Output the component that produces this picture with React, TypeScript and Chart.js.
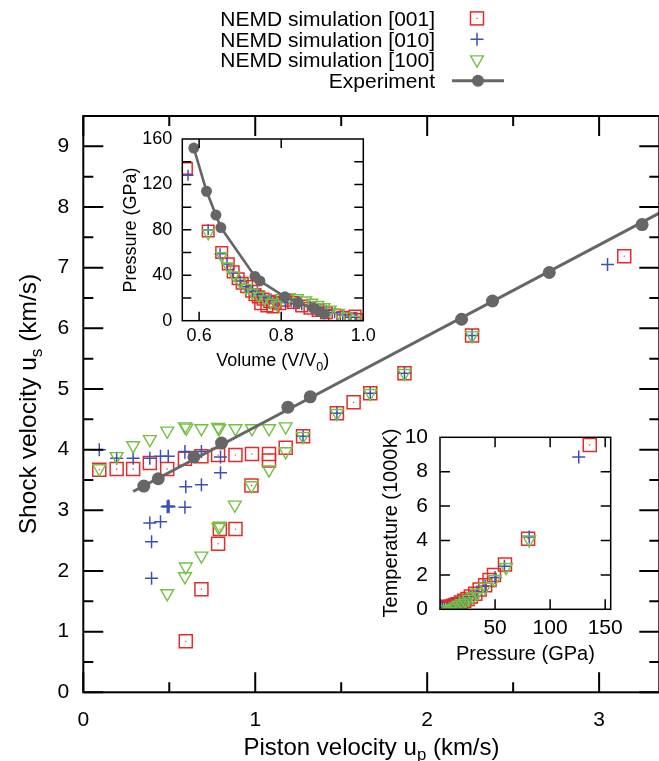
import React, { useEffect, useRef } from "react";
import { Chart, registerables } from "chart.js";

Chart.register(...registerables);

const FONT = '"Liberation Sans", Arial, Helvetica, sans-serif';
const RED = "#e52a2a";
const BLUE = "#3d4fb8";
const GREEN = "#74c043";
const GRAY = "#666666";

// ---------- Main plot: shock velocity vs piston velocity ----------
const mainUp001 = [0.093, 0.194, 0.29, 0.387, 0.488, 0.591, 0.687, 0.784, 0.885, 0.981, 1.08, 1.08, 1.177, 1.278, 1.475, 1.572, 1.669, 1.868, 2.261, 3.146, 0.978, 0.794, 0.885, 0.784, 0.687, 0.596];
const mainUs001 = [3.67, 3.68, 3.68, 3.78, 3.68, 3.85, 3.89, 3.91, 3.91, 3.93, 3.93, 3.82, 4.03, 4.22, 4.6, 4.78, 4.93, 5.26, 5.88, 7.19, 3.41, 2.69, 2.69, 2.45, 1.7, 0.84];

const mainUp010 = [0.093, 0.194, 0.29, 0.387, 0.449, 0.494, 0.591, 0.687, 0.798, 0.798, 0.596, 0.687, 0.488, 0.499, 0.494, 0.591, 0.387, 0.449, 0.397, 0.397, 1.278, 1.475, 1.669, 1.868, 2.261, 3.049];
const mainUs010 = [4.0, 3.86, 3.86, 3.86, 3.89, 3.89, 3.97, 3.97, 3.88, 3.62, 3.39, 3.42, 3.06, 3.06, 3.07, 3.05, 2.79, 2.81, 2.48, 1.88, 4.22, 4.6, 4.93, 5.26, 5.88, 7.05];

const mainUp100 = [0.093, 0.194, 0.29, 0.387, 0.488, 0.591, 0.6, 0.687, 0.784, 0.79, 0.885, 0.981, 1.08, 1.177, 1.08, 1.177, 0.978, 0.881, 0.794, 0.787, 0.687, 0.596, 0.591, 0.488, 1.278, 1.475, 1.669, 1.868, 2.261];
const mainUs100 = [3.69, 3.89, 4.07, 4.17, 4.31, 4.38, 4.36, 4.35, 4.37, 4.35, 4.35, 4.35, 4.35, 4.38, 3.67, 3.97, 3.41, 3.09, 2.74, 2.72, 2.25, 2.07, 1.91, 1.63, 4.22, 4.6, 4.93, 5.26, 5.88];

const mainUpExp = [0.352, 0.436, 0.643, 0.804, 1.19, 1.32, 2.2, 2.38, 2.71, 3.25];
const mainUsExp = [3.4, 3.52, 3.88, 4.11, 4.7, 4.87, 6.15, 6.45, 6.92, 7.71];

const mainUpFit = [0.29, 3.35];
const mainUsFit = [3.31, 7.9];

const mainXMajor = [0, 1, 2, 3];
const mainXMinor = [0.5, 1.5, 2.5];
const mainYMajor = [0, 1, 2, 3, 4, 5, 6, 7, 8, 9];
const mainYMinor = [0.5, 1.5, 2.5, 3.5, 4.5, 5.5, 6.5, 7.5, 8.5];

// ---------- Inset 1: pressure vs volume ----------
const in1V001 = [0.569, 0.622, 0.655, 0.671, 0.683, 0.695, 0.705, 0.716, 0.728, 0.736, 0.744, 0.756, 0.772, 0.785, 0.797, 0.75, 0.765, 0.78, 0.81, 0.83, 0.85, 0.87, 0.89, 0.91, 0.93, 0.95, 0.97, 0.985, 0.98];
const in1P001 = [134, 79, 60, 50, 43, 37, 33, 30, 26, 23, 21, 19, 17, 16, 15, 15, 13, 12, 18, 16, 13, 11, 9, 7, 5, 3, 2, 1, 4];

const in1V010 = [0.573, 0.622, 0.651, 0.668, 0.683, 0.7, 0.715, 0.73, 0.745, 0.76, 0.775, 0.79, 0.81, 0.83, 0.85, 0.87, 0.89, 0.91, 0.93, 0.95, 0.97, 0.98];
const in1P010 = [128, 80, 59, 50, 42, 35, 30, 26, 23, 21, 19, 17, 16, 15, 14, 13, 11, 9, 7, 5, 3, 3];

const in1V100 = [0.622, 0.655, 0.67, 0.685, 0.7, 0.715, 0.73, 0.745, 0.76, 0.775, 0.79, 0.8, 0.82, 0.84, 0.86, 0.875, 0.89, 0.905, 0.92, 0.94, 0.96, 0.98];
const in1P100 = [77, 57, 48, 40, 34, 29, 25, 22, 19, 16, 14, 20, 21, 20, 18, 16, 14, 12, 10, 7, 4, 1];

const in1VExp = [0.587, 0.618, 0.641, 0.653, 0.736, 0.748, 0.809, 0.841, 0.878, 0.893, 0.905];
const in1PExp = [152, 114, 93, 82, 39, 35, 21, 16, 11, 8, 6];

const in1XMajor = [0.6, 0.8];
const in1YMajor = [20, 40, 60, 80, 100, 120, 140];

// ---------- Inset 2: temperature vs pressure ----------
const in2P001 = [136, 80, 59, 49, 45, 41, 36, 32, 28, 25, 22, 19, 16, 14, 12, 10, 8, 6, 4, 2, 1];
const in2T001 = [9.55, 4.1, 2.6, 2.0, 1.7, 1.4, 1.15, 0.9, 0.75, 0.6, 0.5, 0.4, 0.3, 0.25, 0.2, 0.15, 0.1, 0.05, 0.05, 0.1, 0.15];

const in2P010 = [126, 81, 58.5, 50, 41, 33.5, 28, 24, 20, 16, 12, 8, 4, 2];
const in2T010 = [8.85, 4.2, 2.5, 1.85, 1.35, 1.0, 0.7, 0.55, 0.4, 0.3, 0.2, 0.1, 0.05, 0.1];

const in2P100 = [81, 60, 49.5, 41, 34, 30, 26, 23, 20, 17, 14, 11, 9, 7, 4, 2];
const in2T100 = [4.05, 2.45, 1.75, 1.3, 0.95, 0.75, 0.6, 0.45, 0.35, 0.25, 0.15, 0.05, -0.1, -0.15, 0.0, 0.0];

const in2XMajor = [50, 100, 150];
const in2YMajor = [2, 4, 6, 8];

const legendLabels = ["NEMD simulation [001]", "NEMD simulation [010]", "NEMD simulation [100]", "Experiment"];

// ---------- helpers ----------
const pts = (xs: number[], ys: number[]) => xs.map((x, i) => ({ x, y: ys[i] }));

type Seg = { t: string; sub?: boolean };
function drawRich(ctx: CanvasRenderingContext2D, segs: Seg[], cx: number, cy: number, size: number, rotate = false) {
  ctx.save();
  ctx.translate(cx, cy);
  if (rotate) ctx.rotate(-Math.PI / 2);
  const sub = size * 0.7;
  const widths = segs.map((s) => {
    ctx.font = `${s.sub ? sub : size}px ${FONT}`;
    return ctx.measureText(s.t).width;
  });
  const total = widths.reduce((a, b) => a + b, 0);
  let x = -total / 2;
  ctx.fillStyle = "#000";
  ctx.textAlign = "left";
  ctx.textBaseline = "alphabetic";
  const base = size * 0.358;
  segs.forEach((s, i) => {
    ctx.font = `${s.sub ? sub : size}px ${FONT}`;
    ctx.fillText(s.t, x, s.sub ? base + size * 0.24 : base);
    x += widths[i];
  });
  ctx.restore();
}

function framePlugin(o: { lw: number; xMajor: number[]; xMinor: number[]; yMajor: number[]; yMinor: number[]; major: number; minor: number }) {
  return {
    id: "frame",
    afterDatasetsDraw(chart: any) {
      const { ctx, chartArea: a } = chart;
      const xs = chart.scales.x;
      const ys = chart.scales.y;
      ctx.save();
      ctx.strokeStyle = "#000";
      ctx.lineWidth = o.lw;
      ctx.beginPath();
      const tx = (v: number, len: number) => {
        const p = xs.getPixelForValue(v);
        ctx.moveTo(p, a.bottom);
        ctx.lineTo(p, a.bottom - len);
        ctx.moveTo(p, a.top);
        ctx.lineTo(p, a.top + len);
      };
      const ty = (v: number, len: number) => {
        const p = ys.getPixelForValue(v);
        ctx.moveTo(a.left, p);
        ctx.lineTo(a.left + len, p);
        ctx.moveTo(a.right, p);
        ctx.lineTo(a.right - len, p);
      };
      o.xMajor.forEach((v) => tx(v, o.major));
      o.xMinor.forEach((v) => tx(v, o.minor));
      o.yMajor.forEach((v) => ty(v, o.major));
      o.yMinor.forEach((v) => ty(v, o.minor));
      ctx.stroke();
      ctx.strokeRect(a.left, a.top, a.right - a.left, a.bottom - a.top);
      ctx.restore();
    },
  };
}

function textPlugin(draw: (ctx: CanvasRenderingContext2D, chart: any) => void) {
  return {
    id: "texts",
    afterDraw(chart: any) {
      draw(chart.ctx, chart);
    },
  };
}

function simSets(d001: any[], d010: any[], d100: any[], r: { sq: number; pl: number; tr: number }, dots: boolean) {
  const sets: any[] = [
    { data: d100, pointStyle: "triangle", pointRotation: 180, pointRadius: r.tr, borderColor: GREEN, backgroundColor: "rgba(0,0,0,0)", borderWidth: 1.4 },
    { data: d010, pointStyle: "cross", pointRadius: r.pl, borderColor: BLUE, backgroundColor: "rgba(0,0,0,0)", borderWidth: 1.5 },
    { data: d001, pointStyle: "rect", pointRadius: r.sq, borderColor: RED, backgroundColor: "rgba(0,0,0,0)", borderWidth: 1.5 },
  ];
  if (dots) sets.push({ data: d001, pointStyle: "circle", pointRadius: 0.7, borderWidth: 0, backgroundColor: RED, borderColor: RED });
  return sets;
}

function axisOpts(min: number, max: number, step: number, size: number, pad: number, fit: (s: any) => void, cb?: (v: number) => string) {
  return {
    type: "linear" as const,
    min,
    max,
    grid: { display: false, drawTicks: false },
    border: { display: false },
    ticks: {
      stepSize: step,
      includeBounds: false,
      padding: pad,
      color: "#000",
      maxRotation: 0,
      autoSkip: false,
      font: { family: FONT, size },
      ...(cb ? { callback: (v: any) => cb(Number(v)) } : {}),
    },
    afterFit: fit,
  };
}

function baseOptions(padding: any, x: any, y: any) {
  return {
    responsive: false,
    animation: false as const,
    devicePixelRatio: 1,
    events: [] as any[],
    layout: { padding },
    plugins: { legend: { display: false }, tooltip: { enabled: false } },
    scales: { x, y },
  };
}

export default function App() {
  const mainRef = useRef<HTMLCanvasElement>(null);
  const in1Ref = useRef<HTMLCanvasElement>(null);
  const in2Ref = useRef<HTMLCanvasElement>(null);

  useEffect(() => {
    // ----- main chart -----
    const mainChart = new Chart(mainRef.current as HTMLCanvasElement, {
      type: "scatter",
      data: {
        datasets: [
          { data: pts(mainUpExp, mainUsExp), pointStyle: "circle", pointRadius: 6.5, backgroundColor: GRAY, borderColor: GRAY, borderWidth: 0 },
          { data: pts(mainUpFit, mainUsFit), showLine: true, pointRadius: 0, borderColor: GRAY, borderWidth: 3 },
          ...simSets(pts(mainUp001, mainUs001), pts(mainUp010, mainUs010), pts(mainUp100, mainUs100), { sq: 9.2, pl: 6.5, tr: 7.4 }, true),
        ] as any,
      },
      options: baseOptions(
        { top: 116, right: 10, left: 0, bottom: 0 },
        axisOpts(0, 3.35, 1, 21, 15, (s: any) => { s.height = 68.7; }),
        axisOpts(0, 9.5, 1, 21, 14, (s: any) => { s.width = 83.3; })
      ) as any,
      plugins: [
        framePlugin({ lw: 2, xMajor: mainXMajor, xMinor: mainXMinor, yMajor: mainYMajor, yMinor: mainYMinor, major: 20, minor: 10 }),
        textPlugin((ctx) => {
          drawRich(ctx, [{ t: "Piston velocity u" }, { t: "p", sub: true }, { t: " (km/s)" }], 371.5, 746, 24);
          drawRich(ctx, [{ t: "Shock velocity u" }, { t: "s", sub: true }, { t: " (km/s)" }], 27, 404, 24.5, true);
          // legend
          const rows = [18.4, 39.2, 59.6, 80.8];
          const symX = 477;
          ctx.save();
          legendLabels.forEach((lab, i) => {
            ctx.font = `21px ${FONT}`;
            ctx.fillStyle = "#000";
            ctx.textAlign = "right";
            ctx.textBaseline = "alphabetic";
            ctx.fillText(lab, 435, rows[i] + 21 * 0.358);
          });
          ctx.lineWidth = 1.5;
          ctx.strokeStyle = RED;
          ctx.strokeRect(symX - 6.5, rows[0] - 6.5, 13, 13);
          ctx.fillStyle = RED;
          ctx.fillRect(symX - 0.6, rows[0] - 0.6, 1.2, 1.2);
          ctx.strokeStyle = BLUE;
          ctx.beginPath();
          ctx.moveTo(symX - 6.5, rows[1]);
          ctx.lineTo(symX + 6.5, rows[1]);
          ctx.moveTo(symX, rows[1] - 6.5);
          ctx.lineTo(symX, rows[1] + 6.5);
          ctx.stroke();
          ctx.strokeStyle = GREEN;
          ctx.lineWidth = 1.4;
          ctx.beginPath();
          ctx.moveTo(symX - 6.4, rows[2] - 3.7);
          ctx.lineTo(symX + 6.4, rows[2] - 3.7);
          ctx.lineTo(symX, rows[2] + 7.4);
          ctx.closePath();
          ctx.stroke();
          ctx.strokeStyle = GRAY;
          ctx.lineWidth = 3;
          ctx.beginPath();
          ctx.moveTo(452, rows[3]);
          ctx.lineTo(504, rows[3]);
          ctx.stroke();
          ctx.fillStyle = GRAY;
          ctx.beginPath();
          ctx.arc(478, rows[3], 6, 0, Math.PI * 2);
          ctx.fill();
          ctx.restore();
        }),
      ],
    });

    // ----- inset 1: P vs V -----
    const in1 = new Chart(in1Ref.current as HTMLCanvasElement, {
      type: "scatter",
      data: {
        datasets: [
          { data: pts(in1VExp, in1PExp), showLine: true, pointStyle: "circle", pointRadius: 5.5, backgroundColor: GRAY, borderColor: GRAY, borderWidth: 2.6, pointBorderWidth: 0 },
          ...simSets(pts(in1V001, in1P001), pts(in1V010, in1P010), pts(in1V100, in1P100), { sq: 8.2, pl: 5.5, tr: 6.5 }, false),
        ] as any,
      },
      options: baseOptions(
        { top: 34, right: 36.7, left: 0, bottom: 0 },
        axisOpts(0.559, 1.0, 0.2, 18, 5, (s: any) => { s.height = 54.3; }, (v) => v.toFixed(1)),
        axisOpts(0, 160, 40, 18, 10, (s: any) => { s.width = 82.3; })
      ) as any,
      plugins: [
        framePlugin({ lw: 1.5, xMajor: in1XMajor, xMinor: [], yMajor: in1YMajor, yMinor: [], major: 9, minor: 5 }),
        textPlugin((ctx) => {
          drawRich(ctx, [{ t: "Volume (V/V" }, { t: "0", sub: true }, { t: ")" }], 172.8, 255, 18);
          drawRich(ctx, [{ t: "Pressure (GPa)" }], 30, 125, 18, true);
        }),
      ],
    });

    // ----- inset 2: T vs P -----
    const in2 = new Chart(in2Ref.current as HTMLCanvasElement, {
      type: "scatter",
      data: {
        datasets: simSets(pts(in2P001, in2T001), pts(in2P010, in2T010), pts(in2P100, in2T100), { sq: 9.2, pl: 6.5, tr: 7.4 }, true) as any,
      },
      options: baseOptions(
        { top: 37.3, right: 49.3, left: 0, bottom: 0 },
        axisOpts(0, 155, 50, 21, 6, (s: any) => { s.height = 70.7; }, (v) => (v === 0 ? "" : String(v))),
        axisOpts(0, 10, 2, 21, 12, (s: any) => { s.width = 70; })
      ) as any,
      plugins: [
        framePlugin({ lw: 1.5, xMajor: in2XMajor, xMinor: [], yMajor: in2YMajor, yMinor: [], major: 10, minor: 5 }),
        textPlugin((ctx) => {
          drawRich(ctx, [{ t: "Pressure (GPa)" }], 155.4, 252.5, 20);
          drawRich(ctx, [{ t: "Temperature (1000K)" }], 19.5, 123, 20, true);
        }),
      ],
    });

    return () => {
      mainChart.destroy();
      in1.destroy();
      in2.destroy();
    };
  }, []);

  return (
    <div style={{ position: "fixed", left: 0, top: 0, width: 659, height: 761, overflow: "hidden", background: "#fff" }}>
      <canvas ref={mainRef} width={670} height={761} style={{ position: "absolute", left: 0, top: 0, width: 670, height: 761 }} />
      <canvas ref={in1Ref} width={300} height={270} style={{ position: "absolute", left: 100, top: 105, width: 300, height: 270 }} />
      <canvas ref={in2Ref} width={290} height={280} style={{ position: "absolute", left: 370, top: 400, width: 290, height: 280 }} />
    </div>
  );
}
